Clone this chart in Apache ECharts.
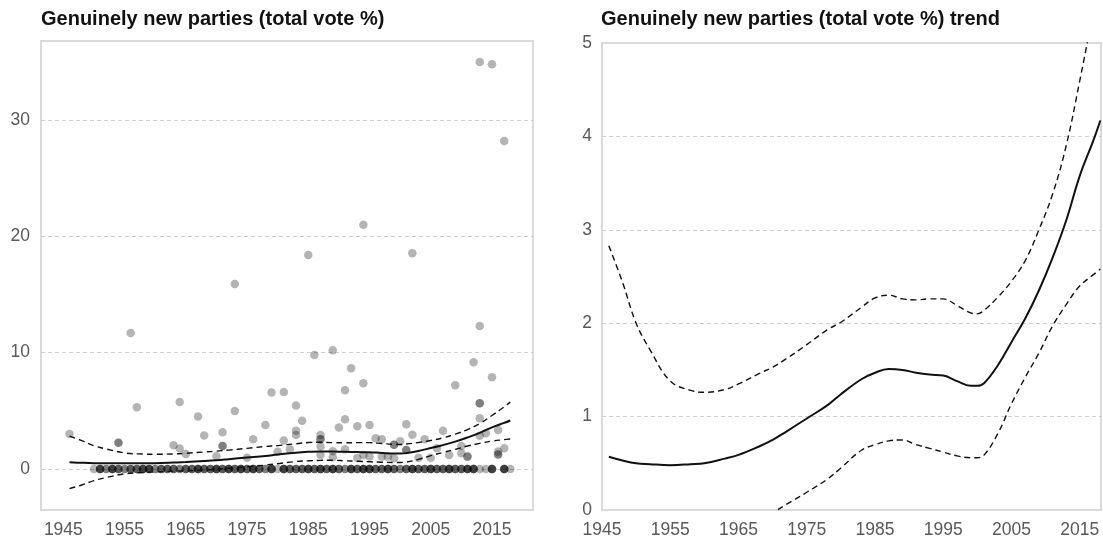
<!DOCTYPE html>
<html>
<head>
<meta charset="utf-8">
<script src="https://cdn.jsdelivr.net/npm/echarts@6/dist/echarts.min.js"></script>
<style>
  html, body { margin: 0; padding: 0; background: #fff; }
  #chart { width: 1103px; height: 540px; }
</style>
</head>
<body>
<div id="chart"></div>
<script>
// Election results: share of the vote won by genuinely new parties (%)
const electionPoints = [
  [1946, 3.0],
  [1954, 2.25], [1954, 2.25],
  [1956, 11.7], [1957, 5.3],
  [1963, 2.03], [1964, 5.75], [1964, 1.75], [1965, 1.29],
  [1967, 4.5], [1968, 2.87], [1970, 1.1],
  [1971, 3.16], [1971, 1.98], [1971, 1.98],
  [1973, 15.9], [1973, 4.98],
  [1975, 0.96], [1976, 2.55], [1978, 3.78], [1979, 6.58],
  [1980, 1.48], [1981, 6.62], [1981, 2.45], [1982, 1.69],
  [1983, 5.46], [1983, 3.28], [1983, 2.92], [1984, 4.14],
  [1985, 18.4], [1986, 9.8],
  [1987, 2.92], [1987, 2.55], [1987, 2.55], [1987, 1.94], [1987, 1.2],
  [1989, 10.2], [1989, 1.52], [1989, 1.0],
  [1990, 3.56], [1991, 6.77], [1991, 4.27], [1991, 1.69],
  [1992, 8.66], [1993, 3.67], [1993, 0.95],
  [1994, 21.0], [1994, 7.37], [1994, 1.2],
  [1995, 3.78], [1995, 1.06], [1996, 2.64], [1997, 2.55], [1997, 1.06],
  [1998, 1.06], [1999, 2.08], [1999, 2.08], [1999, 0.92], [2000, 2.38],
  [2001, 3.85], [2001, 1.63], [2001, 1.63],
  [2002, 18.55], [2002, 2.95], [2003, 0.97], [2004, 2.55], [2005, 0.97],
  [2006, 1.78], [2007, 3.29], [2008, 1.2], [2009, 7.2],
  [2010, 1.98], [2010, 1.35], [2011, 1.06], [2011, 1.06], [2012, 9.17],
  [2013, 35.0], [2013, 12.3], [2013, 5.65], [2013, 5.65], [2013, 4.36], [2013, 2.85],
  [2014, 3.07], [2015, 34.8], [2015, 7.88],
  [2016, 3.35], [2016, 1.49], [2016, 1.25], [2016, 1.25],
  [2017, 28.2], [2017, 1.78]
];

// Elections in which no genuinely new party won votes: how many per year
const zeroYears = [
  1950, 1951, 1952, 1953, 1954, 1955, 1956, 1957, 1958, 1959,
  1960, 1961, 1962, 1963, 1964, 1965, 1966, 1967, 1968, 1969,
  1970, 1971, 1972, 1973, 1974, 1975, 1976, 1977, 1978, 1979,
  1980, 1981, 1982, 1983, 1984, 1985, 1986, 1987, 1988, 1989,
  1990, 1991, 1992, 1993, 1994, 1995, 1996, 1997, 1998, 1999,
  2000, 2001, 2002, 2003, 2004, 2005, 2006, 2007, 2008, 2009,
  2010, 2011, 2012, 2013, 2014, 2015, 2017, 2018
];
const zeroCounts = [
  1, 4, 2, 4, 3, 2, 3, 3, 4, 4,
  2, 3, 3, 3, 2, 3, 3, 4, 3, 3,
  4, 3, 4, 3, 4, 3, 4, 3, 2, 4,
  1, 4, 3, 3, 3, 4, 3, 4, 3, 4,
  3, 2, 4, 3, 4, 4, 3, 3, 4, 3,
  2, 3, 4, 3, 3, 4, 3, 3, 4, 3,
  3, 4, 4, 1, 1, 4, 4, 1
];

// Fitted trend with its confidence band
const trendYears = [
  1946, 1948, 1950, 1952, 1955, 1958, 1960, 1963, 1965, 1968,
  1970, 1972, 1975, 1978, 1980, 1983, 1985, 1987, 1989, 1991,
  1993, 1995, 1997, 1999, 2000, 2001, 2003, 2005, 2007, 2009,
  2011, 2013, 2015, 2017, 2018
];
const trendMean = [
  0.57, 0.53, 0.50, 0.49, 0.48, 0.49, 0.50, 0.55, 0.59, 0.68,
  0.75, 0.84, 0.98, 1.12, 1.24, 1.40, 1.47, 1.51, 1.50, 1.47,
  1.45, 1.44, 1.38, 1.33, 1.33, 1.36, 1.55, 1.80, 2.05, 2.35,
  2.70, 3.10, 3.58, 3.96, 4.17
];
const trendUpper = [
  2.83, 2.44, 2.00, 1.72, 1.38, 1.28, 1.26, 1.29, 1.35, 1.46,
  1.53, 1.62, 1.77, 1.93, 2.01, 2.17, 2.27, 2.30, 2.26, 2.25,
  2.26, 2.26, 2.19, 2.11, 2.10, 2.14, 2.28, 2.45, 2.67, 3.00,
  3.38, 3.90, 4.60, 5.35, 5.75
];
const trendLower = [
  -1.69, -1.38, -1.00, -0.74, -0.42, -0.30, -0.26, -0.19, -0.17, -0.10,
  -0.03, 0.06, 0.19, 0.33, 0.45, 0.64, 0.70, 0.74, 0.75, 0.70,
  0.66, 0.62, 0.58, 0.56, 0.56, 0.59, 0.82, 1.14, 1.42, 1.68,
  1.97, 2.20, 2.40, 2.52, 2.58
];

const yearTicks = [1945, 1955, 1965, 1975, 1985, 1995, 2005, 2015];
const leftValueTicks = [0, 10, 20, 30];

const pairs = (ys) => trendYears.map((y, i) => [y, ys[i]]);

const zeroPoints = [];
zeroYears.forEach((y, i) => {
  for (let k = 0; k < zeroCounts[i]; k++) zeroPoints.push([y, 0]);
});

const FONT = 'Liberation Sans, Arial, sans-serif';
const labelStyle = { color: '#595959', fontSize: 17.5, fontFamily: FONT, formatter: (v) => String(v) };
const titleStyle = { fontSize: 20, fontWeight: 'bold', color: '#111', fontFamily: FONT };
const splitStyle = { show: true, lineStyle: { color: '#cfcfcf', type: [4, 3], width: 1 } };

function trendSeries(xi, yi, data, dashed) {
  return {
    type: 'line',
    xAxisIndex: xi, yAxisIndex: yi,
    data: data,
    smooth: 0.4,
    symbol: 'none',
    silent: true,
    z: 5,
    lineStyle: dashed
      ? { color: '#111', width: 1.4, type: [6, 4] }
      : { color: '#111', width: 2 }
  };
}

const chart = echarts.init(document.getElementById('chart'), null, { renderer: 'canvas' });
chart.setOption({
  animation: false,
  backgroundColor: '#fff',
  title: [
    { text: 'Genuinely new parties (total vote %)', left: 36, top: 4, textStyle: titleStyle },
    { text: 'Genuinely new parties (total vote %) trend', left: 596, top: 4, textStyle: titleStyle }
  ],
  grid: [
    { left: 41, top: 41, width: 492, height: 469, show: true, borderColor: '#dadada', borderWidth: 2, backgroundColor: 'transparent' },
    { left: 602, top: 43, width: 499, height: 467, show: true, borderColor: '#dadada', borderWidth: 2, backgroundColor: 'transparent' }
  ],
  xAxis: [
    {
      type: 'value', gridIndex: 0, min: 1941.35, max: 2021.7,
      axisLine: { show: false }, splitLine: { show: false },
      axisTick: { show: false, customValues: yearTicks },
      axisLabel: Object.assign({ customValues: yearTicks, margin: 11 }, labelStyle)
    },
    {
      type: 'value', gridIndex: 1, min: 1945, max: 2018.1,
      axisLine: { show: false }, splitLine: { show: false },
      axisTick: { show: false, customValues: yearTicks },
      axisLabel: Object.assign({ customValues: yearTicks, margin: 11 }, labelStyle)
    }
  ],
  yAxis: [
    {
      type: 'value', gridIndex: 0, min: -3.53, max: 36.8,
      axisLine: { show: false },
      axisTick: { show: false, customValues: leftValueTicks },
      axisLabel: Object.assign({ customValues: leftValueTicks, margin: 11 }, labelStyle),
      splitLine: splitStyle
    },
    {
      type: 'value', gridIndex: 1, min: 0, max: 5, interval: 1,
      axisLine: { show: false },
      axisTick: { show: false },
      axisLabel: Object.assign({ margin: 10 }, labelStyle),
      splitLine: Object.assign({ showMinLine: false, showMaxLine: false }, splitStyle)
    }
  ],
  series: [
    {
      type: 'scatter', xAxisIndex: 0, yAxisIndex: 0,
      data: zeroPoints.concat(electionPoints),
      symbol: 'circle', symbolSize: 8.5,
      itemStyle: { color: 'rgba(0,0,0,0.37)' },
      silent: true, z: 3
    },
    trendSeries(0, 0, pairs(trendMean), false),
    trendSeries(0, 0, pairs(trendUpper), true),
    trendSeries(0, 0, pairs(trendLower), true),
    trendSeries(1, 1, pairs(trendMean), false),
    trendSeries(1, 1, pairs(trendUpper), true),
    trendSeries(1, 1, pairs(trendLower), true)
  ]
});
</script>
</body>
</html>
